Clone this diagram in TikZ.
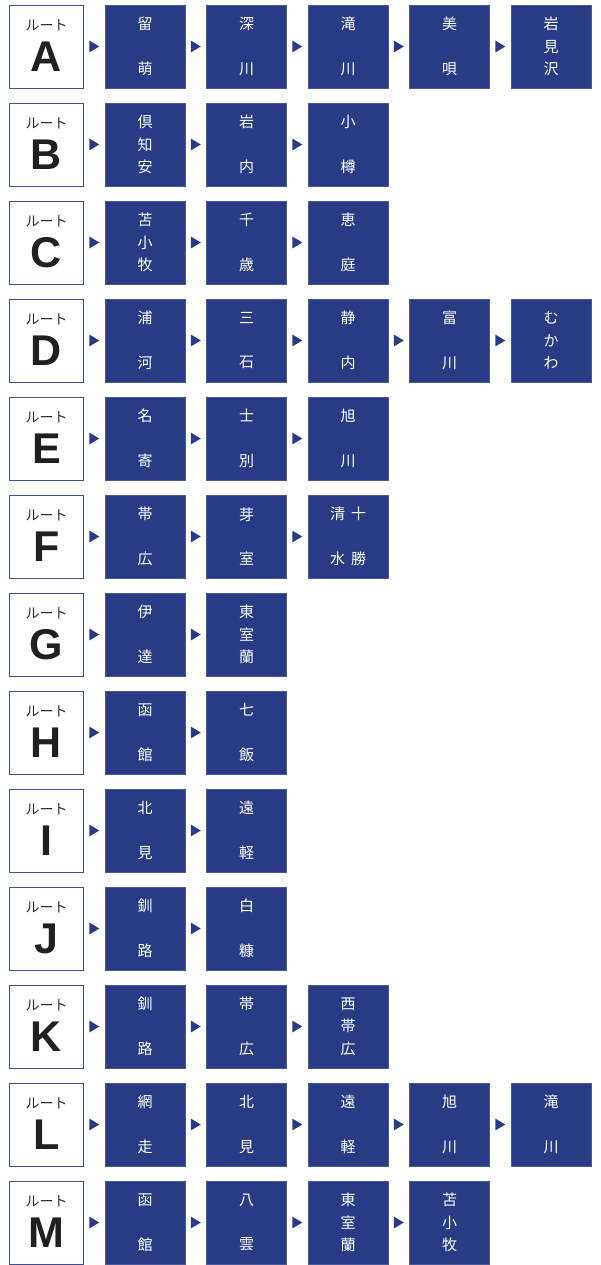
\documentclass[tikz,border=0pt]{standalone}
\usepackage{fontspec}
\setmainfont{Liberation Sans}
\newfontfamily\jpfont{Noto Sans CJK JP}
\usetikzlibrary{positioning,calc}

\definecolor{routeblue}{RGB}{41,59,133}
\definecolor{labelgray}{RGB}{45,45,45}

% station names, written top to bottom
\newcommand{\twochar}[2]{#1\\[22pt]#2}
\newcommand{\threechar}[3]{#1\\#2\\#3}

\tikzset{
  routebox/.style={draw=routeblue!90!white, line width=0.9pt, fill=white, outer sep=0pt,
    minimum width=74pt, minimum height=83pt, inner sep=0pt},
  stationbox/.style={draw=routeblue!85!white, line width=0.7pt, fill=routeblue, outer sep=0pt,
    text=white, minimum width=80pt, minimum height=83pt, inner sep=0pt,
    align=center, font=\jpfont\fontsize{15}{22.5}\selectfont},
  routeword/.style={text=labelgray, inner sep=0pt, font=\jpfont\fontsize{14}{14}\selectfont},
  routeletter/.style={text=labelgray!70!black, inner sep=0pt, font=\fontsize{43}{43}\selectfont\bfseries},
}

\begin{document}
\begin{tikzpicture}[x=1pt, y=-1pt]
    \useasboundingbox (0,0) rectangle (600,1265);

    \foreach \r/\lab/\stations in {
      0/A/{\twochar{留}{萌},\twochar{深}{川},\twochar{滝}{川},\twochar{美}{唄},\threechar{岩}{見}{沢}},
      1/B/{\threechar{倶}{知}{安},\twochar{岩}{内},\twochar{小}{樽}},
      2/C/{\threechar{苫}{小}{牧},\twochar{千}{歳},\twochar{恵}{庭}},
      3/D/{\twochar{浦}{河},\twochar{三}{石},\twochar{静}{内},\twochar{富}{川},\threechar{む}{か}{わ}},
      4/E/{\twochar{名}{寄},\twochar{士}{別},\twochar{旭}{川}},
      5/F/{\twochar{帯}{広},\twochar{芽}{室},\twochar{清\hspace{6pt}十}{水\hspace{6pt}勝}},
      6/G/{\twochar{伊}{達},\threechar{東}{室}{蘭}},
      7/H/{\twochar{函}{館},\twochar{七}{飯}},
      8/I/{\twochar{北}{見},\twochar{遠}{軽}},
      9/J/{\twochar{釧}{路},\twochar{白}{糠}},
      10/K/{\twochar{釧}{路},\twochar{帯}{広},\threechar{西}{帯}{広}},
      11/L/{\twochar{網}{走},\twochar{北}{見},\twochar{遠}{軽},\twochar{旭}{川},\twochar{滝}{川}},
      12/M/{\twochar{函}{館},\twochar{八}{雲},\threechar{東}{室}{蘭},\threechar{苫}{小}{牧}}} {
      % Route label box
      \node[routebox] (s\r-0) at (46.5, 46.5+98*\r) {};
      \node[routeword] (w\r) at ($(s\r-0.center)+(0,-21)$) {ルート};
      \node[routeletter] (l\r) at ($(s\r-0.center)+(0,10)$) {\lab};

      % Stations, with a small triangle in each gap
      \foreach \s [count=\i, remember=\i as \j (initially 0)] in \stations {
        \node[stationbox, right=21.5pt of s\r-\j] (s\r-\i) {\s};
        \fill[routeblue] ($(s\r-\j.east)!0.5!(s\r-\i.west)+(-5,6)$) -- ++(10,-6) -- ++(-10,-6) -- cycle;
      }
    }
\end{tikzpicture}
\end{document}
